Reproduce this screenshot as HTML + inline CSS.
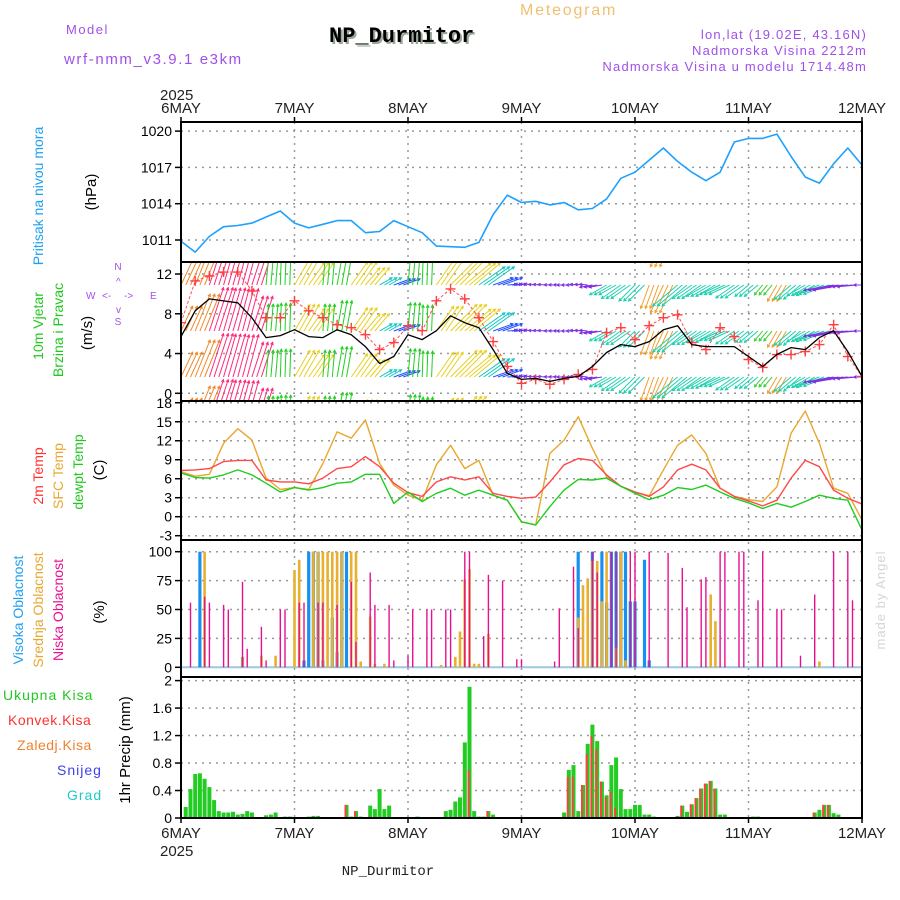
<!DOCTYPE html>
<html><head><meta charset="utf-8"><style>
html,body{margin:0;padding:0;background:#fff;}
svg{display:block;}
text{font-family:"Liberation Sans",sans-serif;}
text.mono{font-family:"Liberation Mono",monospace;}
</style></head><body>
<svg id="chart" width="900" height="900" viewBox="0 0 900 900" xmlns="http://www.w3.org/2000/svg">
<defs>
<clipPath id="clipW"><rect x="181" y="262" width="681" height="139"/></clipPath>
</defs>
<g>
<text x="66" y="34" font-size="13" fill="#a050e8" letter-spacing="1.5">Model</text>
<text x="64" y="64" font-size="15" fill="#a050e8" letter-spacing="1.6">wrf-nmm_v3.9.1 e3km</text>
<text x="520" y="15" font-size="16" fill="#f0c070" letter-spacing="1.8">Meteogram</text>
<text class="mono" x="331" y="44" font-size="22" font-weight="bold" fill="#9aa89a">NP_Durmitor</text>
<text class="mono" x="329" y="42" font-size="22" font-weight="bold" fill="#000">NP_Durmitor</text>
<text x="867" y="39" font-size="13" fill="#a050e8" text-anchor="end" letter-spacing="1.2">lon,lat (19.02E, 43.16N)</text>
<text x="867" y="55" font-size="13" fill="#a050e8" text-anchor="end" letter-spacing="1.2">Nadmorska Visina 2212m</text>
<text x="867" y="71" font-size="13" fill="#a050e8" text-anchor="end" letter-spacing="1.2">Nadmorska Visina u modelu 1714.48m</text>
<text x="160" y="100" font-size="15" fill="#222">2025</text>
<text x="160" y="856" font-size="15" fill="#222">2025</text>
<text class="mono" x="388" y="875" font-size="14" fill="#222" text-anchor="middle">NP_Durmitor</text>
<text transform="translate(885,600) rotate(-90)" font-size="13" fill="#d0d8d0" text-anchor="middle" letter-spacing="1">made by Angel</text>
</g>
<g>
<text transform="translate(43,196) rotate(-90)" font-size="14" fill="#20a0f0" text-anchor="middle">Pritisak na nivou mora</text>
<text transform="translate(96,192) rotate(-90)" font-size="15" fill="#000" text-anchor="middle">(hPa)</text>
<text transform="translate(43,326) rotate(-90)" font-size="14" fill="#20c820" text-anchor="middle">10m Vjetar</text>
<text transform="translate(63,330) rotate(-90)" font-size="14" fill="#20c820" text-anchor="middle">Brzina i Pravac</text>
<text transform="translate(92,333) rotate(-90)" font-size="15" fill="#000" text-anchor="middle">(m/s)</text>
<g fill="#a050e8" font-size="10">
<text x="118" y="270" text-anchor="middle">N</text>
<text x="118" y="325" text-anchor="middle">S</text>
<text x="86" y="299">W</text>
<text x="150" y="299">E</text>
<text x="102" y="299">&lt;-</text><text x="124" y="299">-&gt;</text>
<text x="116" y="285">^</text><text x="116" y="313">v</text>
</g>
<text transform="translate(43,476) rotate(-90)" font-size="14" fill="#ff3030" text-anchor="middle">2m Temp</text>
<text transform="translate(63,476) rotate(-90)" font-size="14" fill="#e8a830" text-anchor="middle">SFC Temp</text>
<text transform="translate(83,472) rotate(-90)" font-size="14" fill="#20c820" text-anchor="middle">dewpt Temp</text>
<text transform="translate(104,470) rotate(-90)" font-size="15" fill="#000" text-anchor="middle">(C)</text>
<text transform="translate(23,610) rotate(-90)" font-size="14" fill="#20a0f0" text-anchor="middle">Visoka Oblacnost</text>
<text transform="translate(43,610) rotate(-90)" font-size="14" fill="#e8a830" text-anchor="middle">Srednja Oblacnost</text>
<text transform="translate(63,610) rotate(-90)" font-size="14" fill="#e81090" text-anchor="middle">Niska Oblacnost</text>
<text transform="translate(104,612) rotate(-90)" font-size="15" fill="#000" text-anchor="middle">(%)</text>
<text x="3" y="700" font-size="14" fill="#20c820" letter-spacing="1">Ukupna Kisa</text>
<text x="8" y="725" font-size="14" fill="#ff3030" letter-spacing="0.5">Konvek.Kisa</text>
<text x="17" y="750" font-size="14" fill="#f08030" letter-spacing="0.5">Zaledj.Kisa</text>
<text x="57" y="775" font-size="14" fill="#4040f0" letter-spacing="1">Snijeg</text>
<text x="67" y="800" font-size="14" fill="#20c8c8" letter-spacing="1">Grad</text>
<text transform="translate(130,750) rotate(-90)" font-size="15" fill="#000" text-anchor="middle">1hr Precip (mm)</text>
</g>
<g id="grid"></g>
<g id="marks"></g>
<g id="frames"></g>
</svg>
<script>
// ---------- data (3-hourly, 6MAY 00 to 12MAY 00, 49 samples) ----------
const dayLabels = ["6MAY","7MAY","8MAY","9MAY","10MAY","11MAY","12MAY"];
const pressureTicks = [1011,1014,1017,1020];
const windTicks = [0,4,8,12];
const tempTicks = [-3,0,3,6,9,12,15,18];
const cloudTicks = [0,25,50,75,100];
const precipTicks = [0,0.4,0.8,1.2,1.6,2];
const pressure = [1010.9,1010.0,1011.3,1012.1,1012.2,1012.4,1012.9,1013.4,1012.4,1012.0,1012.3,1012.6,1012.6,1011.6,1011.7,1012.6,1012.1,1011.6,1010.5,1010.45,1010.4,1010.8,1013.1,1014.7,1014.1,1014.2,1013.9,1014.1,1013.5,1013.6,1014.4,1016.1,1016.6,1017.6,1018.6,1017.5,1016.6,1015.9,1016.6,1019.1,1019.4,1019.4,1019.75,1017.9,1016.2,1015.7,1017.3,1018.6,1017.2];
const windSpeed = [5.7,8.3,9.5,9.3,9.1,7.6,5.6,5.8,6.4,5.7,5.6,6.4,5.9,4.7,3.0,3.7,5.9,5.4,6.3,7.8,7.1,6.6,4.4,2.0,1.4,1.5,1.2,1.5,1.7,2.7,4.1,4.9,4.7,5.2,6.4,6.8,4.9,4.7,4.7,4.7,3.7,2.7,3.9,4.6,4.4,5.6,6.3,4.2,1.7];
const windGust = [7.1,11.3,11.8,12.2,12.2,10.3,7.6,7.6,9.3,8.3,7.6,6.9,6.6,5.9,4.4,5.1,6.8,6.3,9.3,10.5,9.5,7.6,5.2,2.7,1.0,1.4,0.9,1.4,1.9,2.4,6.1,6.6,5.4,6.8,7.6,7.9,5.1,4.4,6.6,5.7,3.4,2.6,3.9,3.9,4.2,4.9,6.9,3.7,1.7];
const windDir = [65,68,72,74,75,72,85,88,60,55,85,80,55,50,30,20,85,88,55,45,40,35,20,5,170,175,178,180,175,190,210,215,225,250,245,220,215,210,205,215,220,230,240,220,210,200,190,185,180];
const temp2m = [7.3,7.4,7.6,8.7,8.9,8.9,5.8,5.5,5.5,5.2,6.1,7.6,7.9,9.5,7.9,5.3,3.8,3.2,5.5,6.3,5.8,6.3,3.7,3.2,2.9,3.1,5.5,8.2,9.2,8.9,6.6,4.8,3.9,3.2,4.7,7.4,8.3,7.4,4.5,3.2,2.5,1.7,2.6,6.1,8.9,7.9,4.2,2.9,2.0];
const tempSfc = [7.1,6.4,6.7,11.6,13.9,12.1,6.1,4.3,4.6,4.3,8.4,13.4,12.4,15.3,8.4,5.0,3.4,2.6,8.2,11.3,7.6,8.9,3.4,2.6,-0.8,-1.3,10.0,12.1,15.8,10.8,6.3,4.8,3.9,3.3,7.4,11.3,12.9,10.0,4.5,3.2,2.7,2.4,4.7,13.2,16.7,11.6,4.5,3.7,-0.5];
const dewpoint = [6.9,6.2,6.1,6.6,7.4,6.6,5.3,3.9,4.6,4.2,4.6,5.3,5.5,6.7,6.7,2.1,3.9,2.4,3.7,4.5,3.4,4.2,3.4,2.6,-0.8,-1.3,1.6,4.2,5.9,5.8,6.1,4.8,3.7,2.7,3.4,4.6,4.3,5.0,3.9,2.9,2.2,1.3,2.1,1.5,2.4,3.4,2.9,2.6,-2.1];
// cloud cover (hourly index, %)
const lowHours = [2,5,6,9,10,13,14,17,18,21,22,25,26,29,30,33,36,37,40,41,44,45,48,49,52,53,56,57,60,61,64,65,68,71,72,79,80,83,84,87,88,91,92,95,96,99,103,106,107,110,111,114,115,118,119,122,123,126,127,131,134,138,141,142];
const lowVals  = [56,61,56,54,50,74,16,35,6,50,50,56,56,56,56,54,74,22,82,54,54,6,10,50,50,50,50,50,100,100,27,80,75,7,7,5,51,87,34,100,82,100,100,100,100,100,99,86,52,76,78,100,100,100,100,58,100,50,50,10,63,100,100,58];
const midHours = [5,13,17,20,24,25,28,29,30,31,32,33,34,36,37,38,40,41,43,55,58,59,60,61,62,63,65,84,85,86,87,88,89,90,92,93,94,112,113,135];
const midVals  = [100,9,10,10,84,93,100,100,100,100,100,100,100,100,100,5,44,3,3,2,9,31,76,85,3,3,29,43,71,77,92,92,57,100,17,100,6,63,40,5];
const highHours = [4,13,26,27,28,29,30,32,33,34,35,84,87,89,90,91,92,93,94,95,96,98,99];
const highVals  = [100,9,6,100,100,100,6,43,13,100,100,100,100,100,56,100,100,100,100,57,57,93,6];
// precipitation (hourly index, mm)
const precipHours = [1,2,3,4,5,6,7,8,9,10,11,12,13,14,15,18,19,20,22,23,27,28,29,35,36,37,38,40,41,42,43,44,50,56,57,58,59,60,61,62,63,64,65,66,81,82,83,84,85,86,87,88,89,90,91,92,93,94,95,96,97,98,99,100,105,106,107,108,109,110,111,112,113,114,115,121,122,134,135,136,137,138,139];
const precipTotal = [0.16,0.42,0.64,0.65,0.57,0.45,0.26,0.1,0.08,0.08,0.09,0.05,0.06,0.1,0.08,0.04,0.05,0.08,0.02,0.02,0.02,0.03,0.03,0.19,0.02,0.1,0.02,0.18,0.13,0.42,0.13,0.18,0.02,0.1,0.12,0.24,0.3,1.1,1.91,0.1,0.02,0.02,0.1,0.05,0.08,0.7,0.77,0.1,0.48,1.08,1.36,1.12,0.53,0.33,0.77,0.88,0.42,0.13,0.13,0.19,0.19,0.05,0.05,0.02,0.03,0.18,0.09,0.2,0.29,0.43,0.5,0.54,0.43,0.05,0.05,0.02,0.02,0.08,0.12,0.19,0.19,0.07,0.05];
const precipConv  = [0,0,0,0,0,0,0,0,0,0,0,0,0,0,0,0,0,0,0,0,0,0,0,0.19,0,0.1,0,0.02,0,0,0,0,0,0,0,0,0.02,0.02,0.7,0,0,0,0.1,0.02,0.02,0.6,0.6,0.02,0.48,0.93,1.2,1.0,0.53,0.3,0.38,0.15,0,0,0,0,0,0,0,0,0.02,0.18,0,0.2,0.29,0.43,0.5,0.54,0.43,0,0,0,0,0.08,0,0.19,0.19,0,0];

// ---------- axes ----------
const X0=181, X1=862;
const xh = h => X0 + h*(X1-X0)/144;
const x3 = i => xh(i*3);
const yP = p => 240 - (p-1011)*12.1;
const yW = s => 393.3 - s*9.94;
const yT = t => 516.7 - t*6.33;
const yC = c => 667.3 - c*1.156;
const yR = r => 818 - r*68.7;
const panels = [[122,262],[262,401],[401,540],[540,677],[677,818]];

const NS="http://www.w3.org/2000/svg";
function mk(tag, attrs, parent){
  const e=document.createElementNS(NS,tag);
  for(const k in attrs) e.setAttribute(k,attrs[k]);
  parent.appendChild(e); return e;
}
const grid=document.getElementById('grid'), marks=document.getElementById('marks'), frames=document.getElementById('frames');

dayLabels.forEach((d,i)=>{
  const x=xh(i*24);
  if(i>0 && i<6){
    const l=mk('line',{x1:x,y1:122,x2:x,y2:818,stroke:'#999','stroke-width':1.5,'stroke-dasharray':'2,5'},grid);
    
    
  }
  const t1=mk('text',{x:x,y:113,'font-size':15,'text-anchor':'middle',fill:'#222'},grid);
  t1.textContent=d;
  
  
  const t2=mk('text',{x:x,y:838,'font-size':15,'text-anchor':'middle',fill:'#222'},grid);
  t2.textContent=d;
  
  
  mk('line',{x1:x,y1:117,x2:x,y2:122,stroke:'#000','stroke-width':1.5},grid);
  mk('line',{x1:x,y1:818,x2:x,y2:823,stroke:'#000','stroke-width':1.5},grid);
});

function yAxis(ticks, fy, fmt, name){
  ticks.forEach(v=>{
    const y=fy(v);
    const g=mk('line',{x1:X0,y1:y,x2:X1,y2:y,stroke:'#999','stroke-width':1.5,'stroke-dasharray':'2,5'},grid);
    
    
    mk('line',{x1:X0-6,y1:y,x2:X0,y2:y,stroke:'#000','stroke-width':1.5},grid);
    const t=mk('text',{x:X0-9,y:y+5,'font-size':14,'text-anchor':'end',fill:'#000'},grid);
    t.textContent=fmt(v);
    
    
  });
}
yAxis(pressureTicks,yP,v=>String(v),'pressure-y');
yAxis(windTicks,yW,v=>String(v),'wind-y');
yAxis(tempTicks,yT,v=>String(v),'temp-y');
yAxis(cloudTicks,yC,v=>String(v),'cloud-y');
yAxis(precipTicks,yR,v=>String(v),'precip-y');

function line(vals, fx, fy, color, w, name, parent){
  const d=vals.map((v,i)=>(i?'L':'M')+fx(i).toFixed(1)+','+fy(v).toFixed(1)).join('');
  const p=mk('path',{d:d,fill:'none',stroke:color,'stroke-width':w,'stroke-linejoin':'round'},parent||marks);
  
  
  return p;
}

line(pressure,x3,yP,'#1ea0ff',1.6,'pressure-line');

function dirColor(a){
  a=((a%360)+360)%360;
  if(a<25) return '#2050ff';
  if(a<40) return '#10c8c0';
  if(a<62) return '#e8d020';
  if(a<70) return '#f08828';
  if(a<80) return '#ff2878';
  if(a<100) return '#20d020';
  if(a<200) return '#8030e0';
  if(a<228) return '#20d0b0';
  if(a<240) return '#40d040';
  return '#f0a030';
}
const wg=mk('g',{'clip-path':'url(#clipW)'},marks);


[239,285,331,377,423].forEach(yb=>{
  for(let h=0;h<=144;h++){
    const i=Math.floor(h/3);
    const a=windDir[i]*Math.PI/180, len=windSpeed[i]*4.8;
    const x0=xh(h), x1=x0+len*Math.cos(a), y1=yb-len*Math.sin(a);
    const c=dirColor(windDir[i]);
    const ar=mk('path',{d:`M${x0.toFixed(1)},${yb}L${x1.toFixed(1)},${y1.toFixed(1)}M${(x1-3*Math.cos(a-0.5)).toFixed(1)},${(y1+3*Math.sin(a-0.5)).toFixed(1)}L${x1.toFixed(1)},${y1.toFixed(1)}L${(x1-3*Math.cos(a+0.5)).toFixed(1)},${(y1+3*Math.sin(a+0.5)).toFixed(1)}`,stroke:c,'stroke-width':1,fill:'none'},wg);
    
    
  }
});
const gl=line(windGust,x3,yW,'#ff5050',1,'wind-gust-line',wg);
gl.setAttribute('stroke-dasharray','3,2');
windGust.forEach((v,i)=>{
  const x=x3(i), y=yW(v);
  const c=mk('path',{d:`M${x-5},${y}h10M${x},${y-5}v10`,stroke:'#ff4040','stroke-width':1.4},wg);
  
  
});
line(windSpeed,x3,yW,'#000',1.3,'wind-speed-line',wg);

line(tempSfc,x3,yT,'#e8a830',1.4,'sfc-temp-line');
line(temp2m,x3,yT,'#ff4848',1.4,'temp-2m-line');
line(dewpoint,x3,yT,'#20cc20',1.4,'dewpoint-line');

const cb=mk('line',{x1:X0,y1:yC(0),x2:X1,y2:yC(0),stroke:'#9cc8e0','stroke-width':2},marks);


function cloudBars(hours, vals, color, w, name){
  hours.forEach((h,k)=>{
    const x=xh(h), y=yC(vals[k]);
    const r=mk('rect',{x:(x-w/2).toFixed(1),y:y.toFixed(1),width:w,height:(yC(0)-y).toFixed(1),fill:color},marks);
    
    
  });
}
cloudBars(highHours,highVals,'#1890f0',3.2,'high-cloud-bar');
cloudBars(midHours,midVals,'#e8b030',2.6,'mid-cloud-bar');
cloudBars(lowHours,lowVals,'#e81090',1.4,'low-cloud-bar');

precipHours.forEach((h,k)=>{
  const x=xh(h);
  const y=yR(precipTotal[k]);
  const r=mk('rect',{x:(x-2).toFixed(1),y:y.toFixed(1),width:4,height:(818-y).toFixed(1),fill:'#22cc22'},marks);
  
  
  if(precipConv[k]>0){
    const yc=yR(precipConv[k]);
    const rc=mk('rect',{x:(x-2).toFixed(1),y:yc.toFixed(1),width:2,height:(818-yc).toFixed(1),fill:'#ff4040'},marks);
    
    
  }
});

panels.forEach(([a,b],i)=>{
  const f=mk('rect',{x:X0,y:a,width:X1-X0,height:b-a,fill:'none',stroke:'#000','stroke-width':2},frames);
  
  
});
</script>
</body></html>
